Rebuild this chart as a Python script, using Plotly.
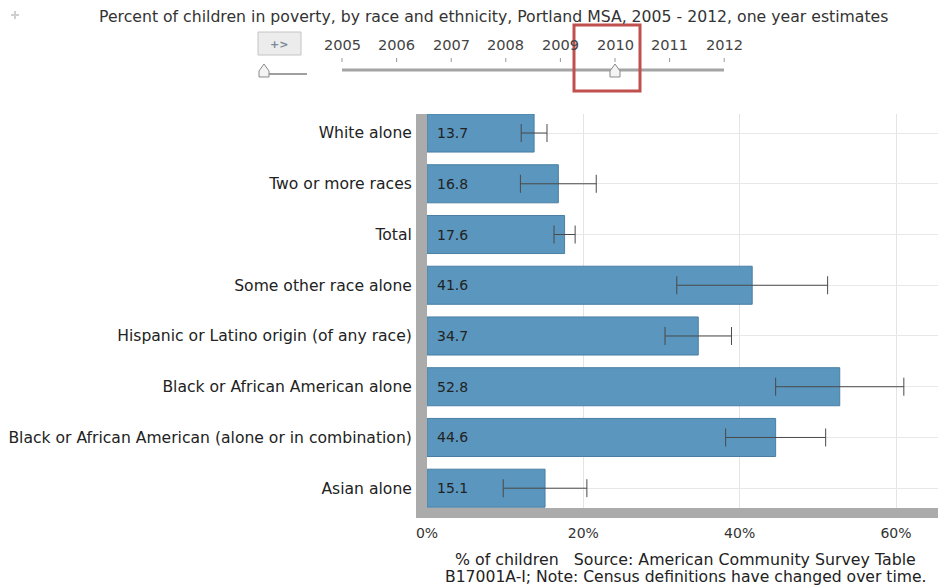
import plotly.graph_objects as go

# ---- data ----
categories = [
    "White alone",
    "Two or more races",
    "Total",
    "Some other race alone",
    "Hispanic or Latino origin (of any race)",
    "Black or African American alone",
    "Black or African American (alone or in combination)",
    "Asian alone",
]
values = [13.7, 16.8, 17.6, 41.6, 34.7, 52.8, 44.6, 15.1]
moe = [1.65, 4.85, 1.35, 9.65, 4.25, 8.2, 6.4, 5.35]
years = ["2005", "2006", "2007", "2008", "2009", "2010", "2011", "2012"]
selected_year = "2010"
x_ticks = [0, 20, 40, 60]
x_ticktext = ["0%", "20%", "40%", "60%"]

title_text = "Percent of children in poverty, by race and ethnicity, Portland MSA, 2005 - 2012, one year estimates"
footer_lines = [
    "% of children   Source: American Community Survey Table",
    "B17001A-I; Note: Census definitions have changed over time.",
]

FONT = "DejaVu Sans, Verdana, sans-serif"
OFF = 8  # page body margin
W, H = 946 - OFF, 588 - OFF
L, R, T = 427 - OFF, 0, 114 - OFF
B = H - (508 - OFF)
PW, PH = W - L - R, H - T - B


def px(p):
    return (p - OFF - L) / PW


def py(p):
    return (H - B - (p - OFF)) / PH


fig = go.Figure()
fig.add_trace(go.Bar(
    y=categories, x=values, orientation="h", width=0.75,
    marker=dict(color="#5a96bd", line=dict(color="#4a7fa3", width=1)),
    error_x=dict(type="data", array=moe, visible=True, color="#4a4a4a",
                 thickness=1, width=9),
    hoverinfo="x+y", showlegend=False,
))

annotations = []
for c, v in zip(categories, values):
    annotations.append(dict(x=0, y=c, xref="x", yref="y", text=f"{v:.1f}",
                            showarrow=False, xanchor="left", xshift=8,
                            font=dict(family=FONT, size=14, color="#222")))


def txt(x, y, s, size, color, **kw):
    d = dict(x=px(x), y=py(y), xref="paper", yref="paper", text=s,
             showarrow=False, xanchor="center", yanchor="middle",
             font=dict(family=FONT, size=size, color=color))
    d.update(kw)
    annotations.append(d)


txt(493, 16, title_text, 15.7, "#333")
txt(279, 44, "<b>+></b>", 11, "#7a8a96")
txt(685, 559, footer_lines[0], 15.8, "#222")
txt(686, 577, footer_lines[1], 15.6, "#222")

shapes = []
# small "+" icon top-left
shapes.append(dict(type="line", xref="paper", yref="paper",
                   x0=px(11), x1=px(19), y0=py(15), y1=py(15),
                   line=dict(color="#cfcfcf", width=2)))
shapes.append(dict(type="line", xref="paper", yref="paper",
                   x0=px(15), x1=px(15), y0=py(11), y1=py(19),
                   line=dict(color="#cfcfcf", width=2)))

year_x0, year_step = 342, 54.6
for i, yr in enumerate(years):
    xc = year_x0 + i * year_step
    txt(xc, 44, yr, 14.6, "#444")
    shapes.append(dict(type="line", xref="paper", yref="paper",
                       x0=px(xc), x1=px(xc), y0=py(58), y1=py(62),
                       line=dict(color="#999", width=1)))

# slider rail
shapes.append(dict(type="line", xref="paper", yref="paper",
                   x0=px(342), x1=px(724), y0=py(70), y1=py(70),
                   line=dict(color="#a4a4a4", width=3)))


def handle(xc):
    pts = [(xc, 64), (xc - 5, 71), (xc - 5, 77), (xc + 5, 77), (xc + 5, 71)]
    path = "M " + " L ".join(f"{px(a):.5f},{py(b):.5f}" for a, b in pts) + " Z"
    return dict(type="path", xref="paper", yref="paper", path=path,
                fillcolor="#f4f4f4", line=dict(color="#8a8a8a", width=1))


sel_i = years.index(selected_year)
sel_x = year_x0 + sel_i * year_step
shapes.append(handle(sel_x))

# speed slider
shapes.append(dict(type="line", xref="paper", yref="paper",
                   x0=px(263), x1=px(307), y0=py(74), y1=py(74),
                   line=dict(color="#a0a0a0", width=2)))
shapes.append(handle(264))

# play button
shapes.append(dict(type="rect", xref="paper", yref="paper",
                   x0=px(258), x1=px(301), y0=py(55), y1=py(32),
                   fillcolor="#ececec", line=dict(color="#c4c4c4", width=1)))

# highlight box
shapes.append(dict(type="rect", xref="paper", yref="paper",
                   x0=px(574), x1=px(640), y0=py(91), y1=py(25),
                   line=dict(color="#c0504d", width=3)))

fig.update_layout(
    width=W, height=H,
    margin=dict(l=L, r=R, t=T, b=B, pad=0),
    paper_bgcolor="white", plot_bgcolor="white",
    font=dict(family=FONT, size=14, color="#222"),
    annotations=annotations,
    shapes=shapes,
    xaxis=dict(
        range=[0, PW / 7.817], tickmode="array", tickvals=x_ticks,
        ticktext=x_ticktext,
        showgrid=True, gridcolor="#e4e4e4", gridwidth=1,
        zeroline=False, showline=True, linewidth=10, linecolor="#ababab",
        ticks="", ticklabelstandoff=3,
        tickfont=dict(family=FONT, size=14, color="#333"),
        fixedrange=True,
    ),
    yaxis=dict(
        type="category", categoryorder="array", categoryarray=categories,
        range=[7.39, -0.375],
        showgrid=True, gridcolor="#e8e8e8", gridwidth=1,
        showline=True, linewidth=11, linecolor="#ababab",
        ticks="", ticklabelstandoff=1,
        tickfont=dict(family=FONT, size=15.6, color="#222"),
        fixedrange=True,
    ),
)

fig.write_html("out.html")
